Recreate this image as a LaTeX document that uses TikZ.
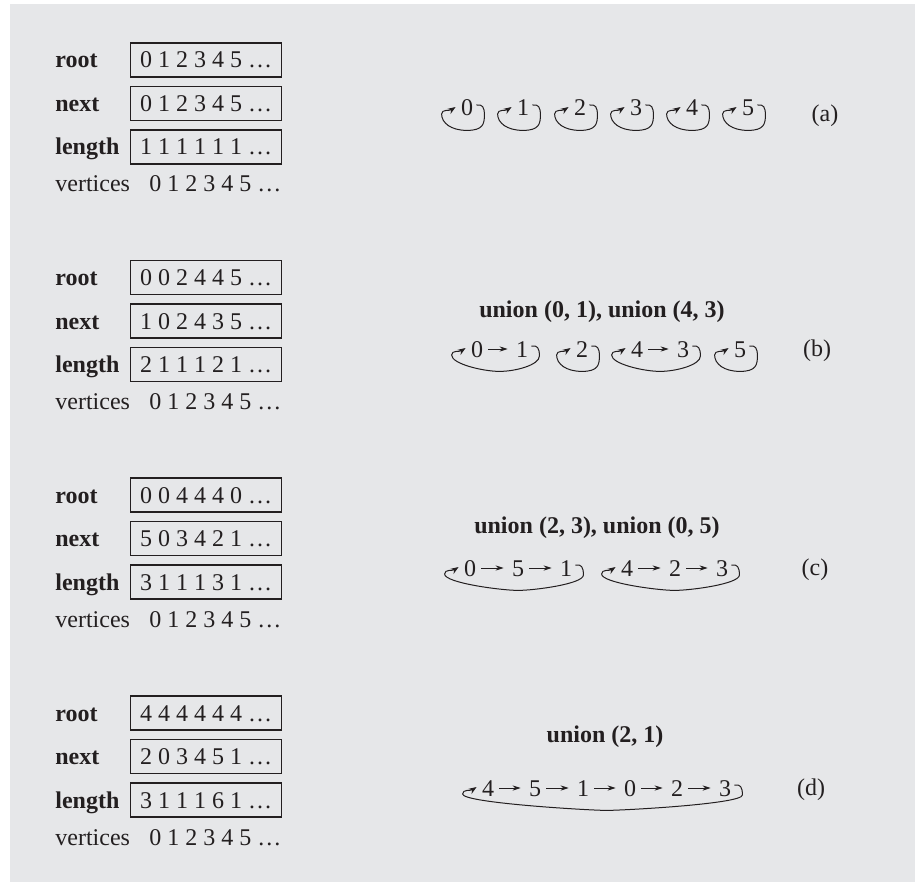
\documentclass[12pt,tikz,border=0pt]{standalone}
\usepackage{fontspec}
\setmainfont{Liberation Serif}
\usepackage{tikz}
\usetikzlibrary{arrows.meta, calc}
\definecolor{panelgray}{HTML}{E6E7E9}
\definecolor{ink}{HTML}{231F20}

\begin{document}
\begin{tikzpicture}[x=0.5pt, y=-0.5pt, text=ink,
    cell/.style={draw=ink, line width=0.6pt, anchor=west, minimum height=17pt,
      minimum width=75.5pt, inner sep=0pt, text height=8pt, text depth=0pt},
    rowlabel/.style={anchor=base west, font=\bfseries},
    plainlabel/.style={anchor=base west},
    vtx/.style={inner sep=0pt, text height=8pt, text depth=0pt},
    link/.style={draw=ink, line width=0.5pt, -{Stealth[length=4pt, width=2.6pt]},
      shorten <=2.5pt, shorten >=4pt},
    ring/.style={draw=ink, line width=0.5pt, -{Stealth[length=4pt, width=3pt]},
      to path={($(\tikztostart.east)+(3,-3)$)
        .. controls +(6,-1) and +(0,-8) .. ($(\tikztostart.east)+(11,7)$)
        .. controls +(0,9) and +(16,0) .. ($(\tikztostart.south)!0.5!(\tikztotarget.south)+(0,14)$)
        .. controls +(-16,0) and +(0,9) .. ($(\tikztotarget.west)+(-19,6)$)
        .. controls +(0,-5) and +(-6,4) .. ($(\tikztotarget.west)+(-5,-1)$)}},
    unionlabel/.style={font=\bfseries},
    tag/.style={}
]

  % Hintergrund
  \useasboundingbox (0,0) rectangle (915,882);
  \fill[panelgray] (10,4) rectangle (915,882);

  % Felder (a)
  \node[rowlabel] (lRootA) at (47,68) {root};
  \node[cell] (rootA) at (130,60) {0 1 2 3 4 5 \ldots};
  \node[rowlabel] (lNextA) at (47,111.5) {next};
  \node[cell] (nextA) at (130,103.5) {0 1 2 3 4 5 \ldots};
  \node[rowlabel] (lLenA) at (47,155) {length};
  \node[cell] (lenA) at (130,147) {1 1 1 1 1 1 \ldots};
  \node[plainlabel] (lVertA) at (47,192) {vertices};
  \node[plainlabel] (vertA) at (141,192) {0 1 2 3 4 5 \ldots};

  % Baeume (a)
  \node[vtx] (a0) at (467,108) {0};
  \node[vtx] (a1) at (523,108) {1};
  \node[vtx] (a2) at (580,108) {2};
  \node[vtx] (a3) at (636,108) {3};
  \node[vtx] (a4) at (692,108) {4};
  \node[vtx] (a5) at (748,108) {5};
  \draw[ring] (a0) to (a0);
  \draw[ring] (a1) to (a1);
  \draw[ring] (a2) to (a2);
  \draw[ring] (a3) to (a3);
  \draw[ring] (a4) to (a4);
  \draw[ring] (a5) to (a5);
  \node[tag] (tagA) at (825,116) {(a)};

  % Felder (b)
  \node[rowlabel] (lRootB) at (47,285.5) {root};
  \node[cell] (rootB) at (130,277.5) {0 0 2 4 4 5 \ldots};
  \node[rowlabel] (lNextB) at (47,329) {next};
  \node[cell] (nextB) at (130,321) {1 0 2 4 3 5 \ldots};
  \node[rowlabel] (lLenB) at (47,372.5) {length};
  \node[cell] (lenB) at (130,364.5) {2 1 1 1 2 1 \ldots};
  \node[plainlabel] (lVertB) at (47,409.5) {vertices};
  \node[plainlabel] (vertB) at (141,409.5) {0 1 2 3 4 5 \ldots};

  % Baeume (b)
  \node[unionlabel] (unionB) at (602,312) {union (0, 1), union (4, 3)};
  \node[vtx] (b0) at (477,349) {0};
  \node[vtx] (b1) at (522,349) {1};
  \node[vtx] (b2) at (582,349) {2};
  \node[vtx] (b4) at (637,349) {4};
  \node[vtx] (b3) at (683,349) {3};
  \node[vtx] (b5) at (740,349) {5};
  \draw[link] (b0) -- (b1);
  \draw[link] (b4) -- (b3);
  \draw[ring] (b1) to (b0);
  \draw[ring] (b2) to (b2);
  \draw[ring] (b3) to (b4);
  \draw[ring] (b5) to (b5);
  \node[tag] (tagB) at (817,351) {(b)};

  % Felder (c)
  \node[rowlabel] (lRootC) at (47,503) {root};
  \node[cell] (rootC) at (130,495) {0 0 4 4 4 0 \ldots};
  \node[rowlabel] (lNextC) at (47,546.5) {next};
  \node[cell] (nextC) at (130,538.5) {5 0 3 4 2 1 \ldots};
  \node[rowlabel] (lLenC) at (47,590) {length};
  \node[cell] (lenC) at (130,582) {3 1 1 1 3 1 \ldots};
  \node[plainlabel] (lVertC) at (47,627) {vertices};
  \node[plainlabel] (vertC) at (141,627) {0 1 2 3 4 5 \ldots};

  % Baeume (c)
  \node[unionlabel] (unionC) at (597,528) {union (2, 3), union (0, 5)};
  \node[vtx] (c0) at (470,568) {0};
  \node[vtx] (c5) at (518,568) {5};
  \node[vtx] (c1) at (566,568) {1};
  \node[vtx] (c4) at (627,568) {4};
  \node[vtx] (c2) at (675,568) {2};
  \node[vtx] (c3) at (722,568) {3};
  \draw[link] (c0) -- (c5);
  \draw[link] (c5) -- (c1);
  \draw[link] (c4) -- (c2);
  \draw[link] (c2) -- (c3);
  \draw[ring] (c1) to (c0);
  \draw[ring] (c3) to (c4);
  \node[tag] (tagC) at (815,570) {(c)};

  % Felder (d)
  \node[rowlabel] (lRootD) at (47,721) {root};
  \node[cell] (rootD) at (130,713) {4 4 4 4 4 4 \ldots};
  \node[rowlabel] (lNextD) at (47,764.5) {next};
  \node[cell] (nextD) at (130,756.5) {2 0 3 4 5 1 \ldots};
  \node[rowlabel] (lLenD) at (47,808) {length};
  \node[cell] (lenD) at (130,800) {3 1 1 1 6 1 \ldots};
  \node[plainlabel] (lVertD) at (47,845) {vertices};
  \node[plainlabel] (vertD) at (141,845) {0 1 2 3 4 5 \ldots};

  % Baum (d)
  \node[unionlabel] (unionD) at (605,737) {union (2, 1)};
  \node[vtx] (d4) at (488,788) {4};
  \node[vtx] (d5) at (535,788) {5};
  \node[vtx] (d1) at (583,788) {1};
  \node[vtx] (d0) at (630,788) {0};
  \node[vtx] (d2) at (677,788) {2};
  \node[vtx] (d3) at (725,788) {3};
  \draw[link] (d4) -- (d5);
  \draw[link] (d5) -- (d1);
  \draw[link] (d1) -- (d0);
  \draw[link] (d0) -- (d2);
  \draw[link] (d2) -- (d3);
  \draw[ring] (d3) to (d4);
  \node[tag] (tagD) at (811,790) {(d)};

\end{tikzpicture}
\end{document}
